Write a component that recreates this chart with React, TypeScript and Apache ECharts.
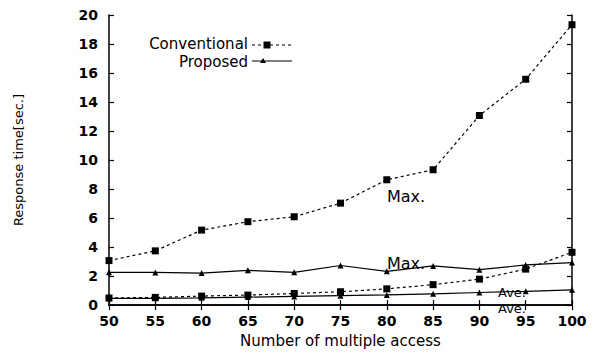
import React, { useEffect, useRef } from "react";
import * as echarts from "echarts";

const xValues = [50, 55, 60, 65, 70, 75, 80, 85, 90, 95, 100];
const convMax = [3.07, 3.74, 5.17, 5.75, 6.09, 7.03, 8.64, 9.33, 13.07, 15.57, 19.33];
const convAve = [0.49, 0.53, 0.62, 0.69, 0.8, 0.92, 1.12, 1.41, 1.79, 2.48, 3.64];
const propMax = [2.26, 2.25, 2.21, 2.4, 2.26, 2.73, 2.33, 2.7, 2.44, 2.77, 2.93];
const propAve = [0.47, 0.47, 0.5, 0.55, 0.6, 0.65, 0.7, 0.78, 0.87, 0.95, 1.05];

const FONT = "DejaVu Sans";

function pairs(ys: number[]) {
  return xValues.map((x, i) => [x, ys[i]]);
}

export default function App() {
  const ref = useRef<HTMLDivElement>(null);
  useEffect(() => {
    if (!ref.current) return;
    const chart = echarts.init(ref.current, undefined, { renderer: "svg" });
    const axisLine = { show: true, lineStyle: { color: "#000", width: 1.5 } };
    const tickStyle = { show: true, inside: true, length: 5, lineStyle: { color: "#000", width: 1.2 } };
    const convLine = { color: "#000", width: 1.2, type: [3, 3] as any };
    const propLine = { color: "#000", width: 1.2, type: "solid" as any };
    chart.setOption({
      animation: false,
      backgroundColor: "#fff",
      grid: { left: 109, right: 21, top: 15, bottom: 40, containLabel: false },
      xAxis: [
        {
          type: "value",
          min: 50,
          max: 100,
          interval: 5,
          name: "Number of multiple access",
          nameLocation: "middle",
          nameGap: 24,
          nameTextStyle: { fontFamily: FONT, fontSize: 15, color: "#000" },
          axisLine,
          axisTick: tickStyle,
          axisLabel: { fontFamily: FONT, fontSize: 14, fontWeight: "bold", color: "#000", margin: 9 },
          splitLine: { show: false },
        },
        {
          type: "value",
          position: "top",
          min: 50,
          max: 100,
          interval: 5,
          axisLine,
          axisTick: tickStyle,
          axisLabel: { show: false },
          splitLine: { show: false },
        },
      ],
      yAxis: [
        {
          type: "value",
          min: 0,
          max: 20,
          interval: 2,
          name: "Response time[sec.]",
          nameLocation: "middle",
          nameGap: 84,
          nameTextStyle: { fontFamily: FONT, fontSize: 13, color: "#000" },
          axisLine,
          axisTick: tickStyle,
          axisLabel: { fontFamily: FONT, fontSize: 14, fontWeight: "bold", color: "#000", margin: 11 },
          splitLine: { show: false },
        },
        {
          type: "value",
          position: "right",
          min: 0,
          max: 20,
          interval: 2,
          axisLine,
          axisTick: tickStyle,
          axisLabel: { show: false },
          splitLine: { show: false },
        },
      ],
      series: [
        {
          name: "Conventional Max",
          type: "line",
          data: pairs(convMax),
          symbol: "rect",
          symbolSize: 7,
          itemStyle: { color: "#000" },
          lineStyle: convLine,
        },
        {
          name: "Conventional Ave",
          type: "line",
          data: pairs(convAve),
          symbol: "rect",
          symbolSize: 7,
          itemStyle: { color: "#000" },
          lineStyle: convLine,
        },
        {
          name: "Proposed Max",
          type: "line",
          data: pairs(propMax),
          symbol: "triangle",
          symbolSize: 6,
          itemStyle: { color: "#000" },
          lineStyle: propLine,
        },
        {
          name: "Proposed Ave",
          type: "line",
          data: pairs(propAve),
          symbol: "triangle",
          symbolSize: 6,
          itemStyle: { color: "#000" },
          lineStyle: propLine,
        },
      ],
      graphic: [
        { type: "text", x: 248, y: 44, style: { text: "Conventional", fill: "#000", font: `15px "${FONT}"`, textAlign: "right", textVerticalAlign: "middle" } },
        { type: "text", x: 248, y: 62, style: { text: "Proposed", fill: "#000", font: `15px "${FONT}"`, textAlign: "right", textVerticalAlign: "middle" } },
        { type: "line", shape: { x1: 252, y1: 45, x2: 292, y2: 45 }, style: { stroke: "#000", lineWidth: 1.2, lineDash: [3, 3] } },
        { type: "rect", shape: { x: 263.5, y: 41.5, width: 7, height: 7 }, style: { fill: "#000" } },
        { type: "line", shape: { x1: 252, y1: 61, x2: 292, y2: 61 }, style: { stroke: "#000", lineWidth: 1.2 } },
        { type: "polygon", shape: { points: [[263, 58], [260, 63], [266, 63]] }, style: { fill: "#000" } },
        { type: "text", x: 387, y: 196, style: { text: "Max.", fill: "#000", font: `16px "${FONT}"`, textVerticalAlign: "middle" } },
        { type: "text", x: 387, y: 263, style: { text: "Max.", fill: "#000", font: `16px "${FONT}"`, textVerticalAlign: "middle" } },
        { type: "text", x: 498, y: 292, style: { text: "Ave.", fill: "#000", font: `13px "${FONT}"`, textVerticalAlign: "middle" } },
        { type: "text", x: 498, y: 308.5, style: { text: "Ave.", fill: "#000", font: `13px "${FONT}"`, textVerticalAlign: "middle" } },
      ],
    });
    return () => chart.dispose();
  }, []);
  return <div ref={ref} style={{ width: 593, height: 353, position: "absolute", left: 0, top: 0 }} />;
}
